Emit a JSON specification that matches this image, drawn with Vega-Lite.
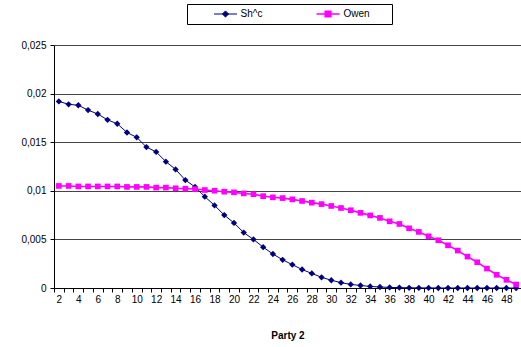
{
  "$schema": "https://vega.github.io/schema/vega-lite/v6.json",
  "autosize": "none",
  "padding": {"left": 54, "top": 45, "right": 0, "bottom": 59},
  "width": 467,
  "height": 243,
  "background": "white",
  "config": {
    "view": {"stroke": null},
    "font": "Liberation Sans",
    "axis": {"labelFont": "Liberation Sans", "titleFont": "Liberation Sans", "labelColor": "black", "titleColor": "black", "domainColor": "black", "tickColor": "black", "labelFontSize": 10, "titleFontSize": 10},
    "legend": {"labelFont": "Liberation Sans", "labelFontSize": 10, "labelColor": "black"}
  },
  "data": {"values": [
    {"party": 2, "series": "Sh^c", "value": 0.0192},
    {"party": 3, "series": "Sh^c", "value": 0.0189},
    {"party": 4, "series": "Sh^c", "value": 0.0188},
    {"party": 5, "series": "Sh^c", "value": 0.0183},
    {"party": 6, "series": "Sh^c", "value": 0.0179},
    {"party": 7, "series": "Sh^c", "value": 0.0173},
    {"party": 8, "series": "Sh^c", "value": 0.0169},
    {"party": 9, "series": "Sh^c", "value": 0.0160},
    {"party": 10, "series": "Sh^c", "value": 0.0155},
    {"party": 11, "series": "Sh^c", "value": 0.0145},
    {"party": 12, "series": "Sh^c", "value": 0.0140},
    {"party": 13, "series": "Sh^c", "value": 0.0130},
    {"party": 14, "series": "Sh^c", "value": 0.0122},
    {"party": 15, "series": "Sh^c", "value": 0.0111},
    {"party": 16, "series": "Sh^c", "value": 0.0104},
    {"party": 17, "series": "Sh^c", "value": 0.0094},
    {"party": 18, "series": "Sh^c", "value": 0.0085},
    {"party": 19, "series": "Sh^c", "value": 0.0075},
    {"party": 20, "series": "Sh^c", "value": 0.0067},
    {"party": 21, "series": "Sh^c", "value": 0.0057},
    {"party": 22, "series": "Sh^c", "value": 0.0050},
    {"party": 23, "series": "Sh^c", "value": 0.0042},
    {"party": 24, "series": "Sh^c", "value": 0.0035},
    {"party": 25, "series": "Sh^c", "value": 0.0029},
    {"party": 26, "series": "Sh^c", "value": 0.0024},
    {"party": 27, "series": "Sh^c", "value": 0.0019},
    {"party": 28, "series": "Sh^c", "value": 0.0015},
    {"party": 29, "series": "Sh^c", "value": 0.0011},
    {"party": 30, "series": "Sh^c", "value": 0.0008},
    {"party": 31, "series": "Sh^c", "value": 0.00055},
    {"party": 32, "series": "Sh^c", "value": 0.00037},
    {"party": 33, "series": "Sh^c", "value": 0.00026},
    {"party": 34, "series": "Sh^c", "value": 0.00016},
    {"party": 35, "series": "Sh^c", "value": 0.0001},
    {"party": 36, "series": "Sh^c", "value": 0.00006},
    {"party": 37, "series": "Sh^c", "value": 0.00004},
    {"party": 38, "series": "Sh^c", "value": 0.00002},
    {"party": 39, "series": "Sh^c", "value": 0.00001},
    {"party": 40, "series": "Sh^c", "value": 0.00001},
    {"party": 41, "series": "Sh^c", "value": 0},
    {"party": 42, "series": "Sh^c", "value": 0},
    {"party": 43, "series": "Sh^c", "value": 0},
    {"party": 44, "series": "Sh^c", "value": 0},
    {"party": 45, "series": "Sh^c", "value": 0},
    {"party": 46, "series": "Sh^c", "value": 0},
    {"party": 47, "series": "Sh^c", "value": 0},
    {"party": 48, "series": "Sh^c", "value": 0},
    {"party": 49, "series": "Sh^c", "value": 0},
    {"party": 2, "series": "Owen", "value": 0.0105},
    {"party": 3, "series": "Owen", "value": 0.0105},
    {"party": 4, "series": "Owen", "value": 0.01045},
    {"party": 5, "series": "Owen", "value": 0.01045},
    {"party": 6, "series": "Owen", "value": 0.01045},
    {"party": 7, "series": "Owen", "value": 0.01045},
    {"party": 8, "series": "Owen", "value": 0.01045},
    {"party": 9, "series": "Owen", "value": 0.0104},
    {"party": 10, "series": "Owen", "value": 0.0104},
    {"party": 11, "series": "Owen", "value": 0.0104},
    {"party": 12, "series": "Owen", "value": 0.01033},
    {"party": 13, "series": "Owen", "value": 0.01033},
    {"party": 14, "series": "Owen", "value": 0.01026},
    {"party": 15, "series": "Owen", "value": 0.01022},
    {"party": 16, "series": "Owen", "value": 0.01018},
    {"party": 17, "series": "Owen", "value": 0.01008},
    {"party": 18, "series": "Owen", "value": 0.01001},
    {"party": 19, "series": "Owen", "value": 0.00991},
    {"party": 20, "series": "Owen", "value": 0.00984},
    {"party": 21, "series": "Owen", "value": 0.00973},
    {"party": 22, "series": "Owen", "value": 0.00965},
    {"party": 23, "series": "Owen", "value": 0.00945},
    {"party": 24, "series": "Owen", "value": 0.00933},
    {"party": 25, "series": "Owen", "value": 0.00925},
    {"party": 26, "series": "Owen", "value": 0.00912},
    {"party": 27, "series": "Owen", "value": 0.00895},
    {"party": 28, "series": "Owen", "value": 0.00878},
    {"party": 29, "series": "Owen", "value": 0.00863},
    {"party": 30, "series": "Owen", "value": 0.00844},
    {"party": 31, "series": "Owen", "value": 0.00823},
    {"party": 32, "series": "Owen", "value": 0.0080},
    {"party": 33, "series": "Owen", "value": 0.00773},
    {"party": 34, "series": "Owen", "value": 0.00747},
    {"party": 35, "series": "Owen", "value": 0.00721},
    {"party": 36, "series": "Owen", "value": 0.00686},
    {"party": 37, "series": "Owen", "value": 0.00659},
    {"party": 38, "series": "Owen", "value": 0.00614},
    {"party": 39, "series": "Owen", "value": 0.00577},
    {"party": 40, "series": "Owen", "value": 0.00532},
    {"party": 41, "series": "Owen", "value": 0.00491},
    {"party": 42, "series": "Owen", "value": 0.00439},
    {"party": 43, "series": "Owen", "value": 0.00385},
    {"party": 44, "series": "Owen", "value": 0.00323},
    {"party": 45, "series": "Owen", "value": 0.00265},
    {"party": 46, "series": "Owen", "value": 0.0020},
    {"party": 47, "series": "Owen", "value": 0.00136},
    {"party": 48, "series": "Owen", "value": 0.00084},
    {"party": 49, "series": "Owen", "value": 0.00036}
  ]},
  "encoding": {
    "x": {
      "field": "party", "type": "ordinal", "bandPosition": 0.5,
      "scale": {"type": "band", "paddingInner": 0, "paddingOuter": 0},
      "axis": {
        "tickBand": "extent", "labelAngle": 0, "labelOverlap": false,
        "labelExpr": "datum.value % 2 == 0 ? datum.label : ''",
        "tickSize": 4, "labelPadding": 2, "grid": false,
        "title": "Party 2", "titleFontWeight": "bold", "titlePadding": 26
      }
    },
    "y": {
      "field": "value", "type": "quantitative",
      "scale": {"domain": [0, 0.025], "nice": false},
      "axis": {
        "values": [0, 0.005, 0.01, 0.015, 0.02, 0.025],
        "labelExpr": "replace(format(datum.value, '~g'), '.', ',')",
        "title": null, "grid": true, "gridColor": "#444444", "gridWidth": 1,
        "tickSize": 4, "labelPadding": 4
      }
    }
  },
  "layer": [
    {
      "mark": {"type": "point", "filled": false, "opacity": 0, "strokeWidth": 1},
      "encoding": {
        "fill": {"field": "series", "type": "nominal", "scale": {"domain": ["Sh^c", "Owen"], "range": ["#000080", "#FF00FF"]},
          "legend": {"orient": "none", "legendX": 133, "legendY": -41, "direction": "horizontal", "title": null, "strokeColor": "black", "fillColor": "white", "padding": 5, "clipHeight": 10, "symbolSize": 529, "symbolOffset": 21.5, "columnPadding": 31, "labelOffset": 3, "symbolStrokeWidth": 1, "symbolOpacity": 1,
            "labelExpr": "datum.label == 'Owen' ? 'Owen\u00a0\u00a0\u00a0\u00a0\u00a0\u00a0\u200b' : datum.label"}},
        "shape": {"field": "series", "type": "nominal", "scale": {"domain": ["Sh^c", "Owen"], "range": ["M-1,0H1M0,-0.27L0.27,0L0,0.27L-0.27,0Z", "M-1,0H1M-0.24,-0.24H0.24V0.24H-0.24Z"]},
          "legend": {"orient": "none", "legendX": 133, "legendY": -41, "direction": "horizontal", "title": null, "strokeColor": "black", "fillColor": "white", "padding": 5, "clipHeight": 10, "symbolSize": 529, "symbolOffset": 21.5, "columnPadding": 31, "labelOffset": 3, "symbolStrokeWidth": 1, "symbolOpacity": 1,
            "labelExpr": "datum.label == 'Owen' ? 'Owen\u00a0\u00a0\u00a0\u00a0\u00a0\u00a0\u200b' : datum.label"}}
      }
    },
    {
      "mark": {"type": "line"},
      "encoding": {
        "stroke": {"field": "series", "type": "nominal", "scale": {"domain": ["Sh^c", "Owen"], "range": ["#000080", "#FF00FF"]}, "legend": null},
        "strokeWidth": {"field": "series", "type": "nominal", "scale": {"domain": ["Sh^c", "Owen"], "range": [1, 1.6]}, "legend": null}
      }
    },
    {
      "transform": [{"filter": "datum.series == 'Sh^c'"}],
      "mark": {"type": "point", "filled": true, "opacity": 1, "shape": "diamond", "size": 40, "color": "#000080"}
    },
    {
      "transform": [{"filter": "datum.series == 'Owen'"}],
      "mark": {"type": "point", "filled": true, "opacity": 1, "shape": "square", "size": 32, "color": "#FF00FF"}
    }
  ]
}
